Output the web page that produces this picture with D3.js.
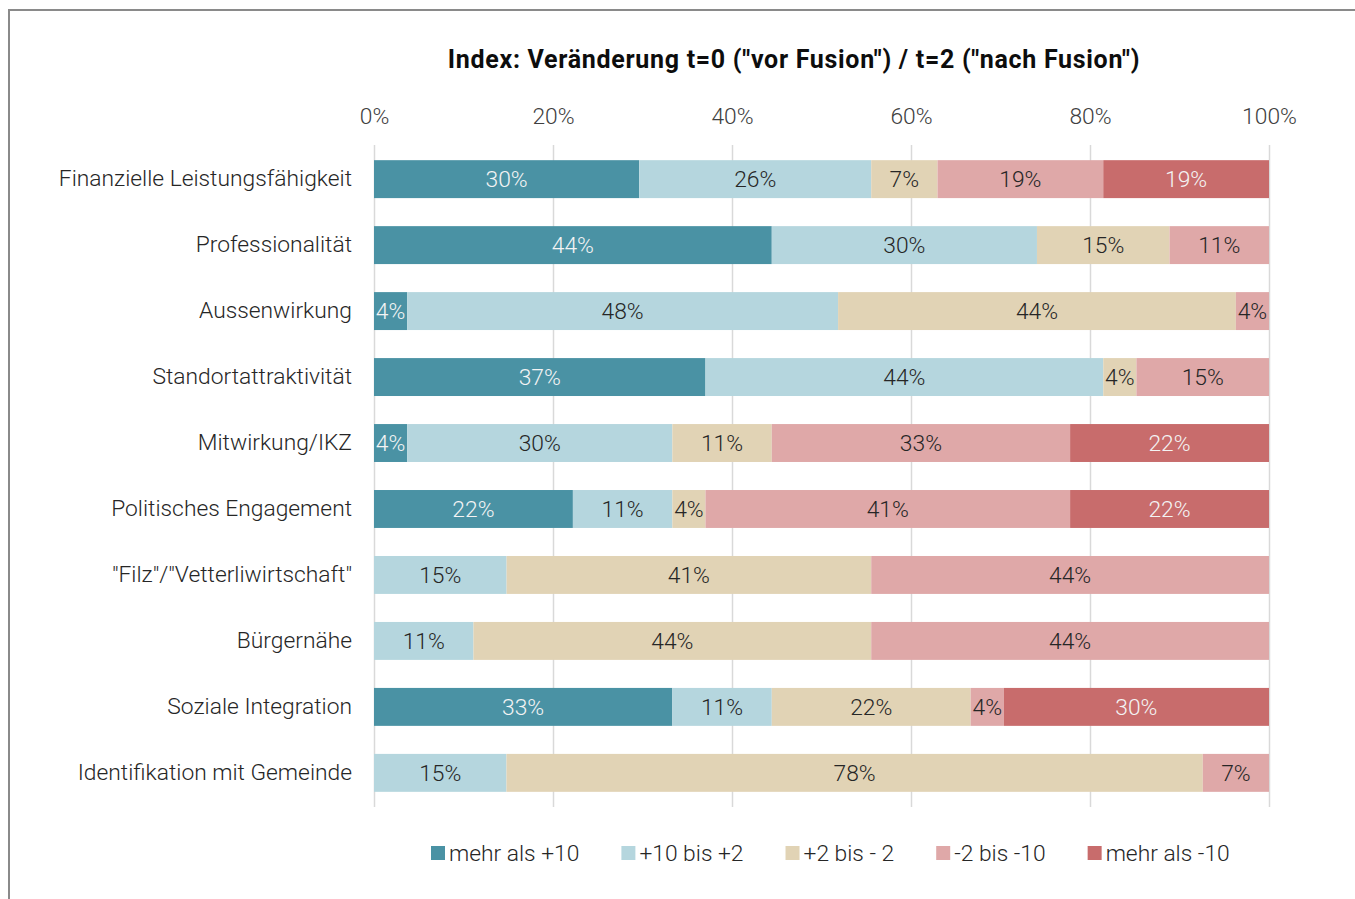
<!DOCTYPE html>
<html>
<head>
<meta charset="utf-8">
<script src="https://cdn.jsdelivr.net/npm/d3@7"></script>
<style>
  body { margin: 0; background: #fff; }
  svg text { font-family: Roboto, "Noto Sans", sans-serif; }
</style>
</head>
<body>
<div id="chart"></div>
<script>
'use strict';

// Kategorien (von oben nach unten)
var categories = [
    'Finanzielle Leistungsfähigkeit',
    'Professionalität',
    'Aussenwirkung',
    'Standortattraktivität',
    'Mitwirkung/IKZ',
    'Politisches Engagement',
    '"Filz"/"Vetterliwirtschaft"',
    'Bürgernähe',
    'Soziale Integration',
    'Identifikation mit Gemeinde'
];

var seriesNames = ['mehr als +10', '+10 bis +2', '+2 bis - 2', '-2 bis -10', 'mehr als -10'];
var seriesColors = ['#4a92a4', '#b5d6de', '#e1d3b5', '#dfa8a8', '#c86c6c'];
var labelColors = ['#f4f4f4', '#262626', '#262626', '#262626', '#f4f4f4'];

// Anteile in % je Kategorie
var mehrAlsPlus10  = [29.6, 44.4,  3.7, 37.0,  3.7, 22.2,  0.0,  0.0, 33.3,  0.0];
var plus10bisPlus2 = [25.9, 29.6, 48.1, 44.4, 29.6, 11.1, 14.8, 11.1, 11.1, 14.8];
var plus2bisMinus2 = [ 7.4, 14.8, 44.4,  3.7, 11.1,  3.7, 40.7, 44.4, 22.2, 77.8];
var minus2bis10    = [18.5, 11.1,  3.7, 14.8, 33.3, 40.7, 44.4, 44.4,  3.7,  7.4];
var mehrAlsMinus10 = [18.5,  0.0,  0.0,  0.0, 22.2, 22.2,  0.0,  0.0, 29.6,  0.0];

var tickValues = [0, 0.2, 0.4, 0.6, 0.8, 1];
var title = 'Index: Veränderung t=0 ("vor Fusion") / t=2 ("nach Fusion")';

function stackedBars()
{
    var scope = this;
    var exports = {};

    scope.width = 1355;
    scope.height = 899;
    scope.margins = {left: 374, right: 86, top: 145, bottom: 92};
    scope.cw = scope.width - scope.margins.left - scope.margins.right;
    scope.ch = scope.height - scope.margins.top - scope.margins.bottom;
    scope.fontSize = 22.8;

    scope.xScale = undefined;
    scope.yScale = undefined;
    scope.rows = undefined;
    scope.stack = undefined;

    scope.appendSvg = function(div)
    {
        var svg = d3.select(div).append('svg')
            .attr('width', scope.width)
            .attr('height', scope.height);

        // Rahmen
        svg.append('rect')
            .attr('x', 9)
            .attr('y', 10)
            .attr('width', 1400)
            .attr('height', 1000)
            .attr('fill', 'none')
            .attr('stroke', '#8a8a8a')
            .attr('stroke-width', 2);

        return svg;
    }

    scope.appendChartGroup = function(svg)
    {
        return svg.append('g')
            .attr('transform', 'translate(' + scope.margins.left + ',' + scope.margins.top + ')');
    }

    scope.createAxes = function(cht)
    {
        scope.xScale = d3.scaleLinear().domain([0, 1]).range([0, scope.cw]);
        scope.yScale = d3.scaleBand().domain(categories).range([0, scope.ch]).paddingInner(0.425).paddingOuter(0.23);

        // Gitterlinien
        cht.append('g')
            .selectAll('line')
            .data(tickValues)
            .enter().append('line')
            .attr('x1', function(d) { return Math.round(scope.xScale(d)) + 0.5; })
            .attr('x2', function(d) { return Math.round(scope.xScale(d)) + 0.5; })
            .attr('y1', 0)
            .attr('y2', scope.ch)
            .attr('stroke', '#d9d9d9')
            .attr('stroke-width', 1.5);

        var xAxis = cht.append('g')
            .attr('transform', 'translate(0,-21)')
            .call(d3.axisTop(scope.xScale).tickValues(tickValues).tickFormat(d3.format('.0%')).tickSize(0).tickPadding(0));
        xAxis.select('.domain').remove();
        xAxis.selectAll('text')
            .attr('font-family', 'Roboto')
            .attr('font-weight', 300)
            .attr('font-size', scope.fontSize)
            .attr('fill', '#404040');

        var yAxis = cht.append('g')
            .call(d3.axisLeft(scope.yScale).tickSize(0).tickPadding(22));
        yAxis.select('.domain').remove();
        yAxis.selectAll('text')
            .attr('font-family', 'Roboto')
            .attr('font-weight', 300)
            .attr('font-size', scope.fontSize)
            .attr('fill', '#262626');
    }

    scope.appendBars = function(cht)
    {
        var series = cht.selectAll('.series')
            .data(scope.stack)
            .enter().append('g')
            .attr('class', 'series')
            .attr('fill', function(d, i) { return seriesColors[i]; });

        series.selectAll('rect')
            .data(function(d) { return d; })
            .enter().append('rect')
            .attr('x', function(d) { return scope.xScale(d[0]); })
            .attr('y', function(d) { return scope.yScale(d.data.cat); })
            .attr('width', function(d) { return scope.xScale(d[1]) - scope.xScale(d[0]); })
            .attr('height', scope.yScale.bandwidth());

        series.each(function(s, i) {
            d3.select(this).selectAll('text')
                .data(s.filter(function(d) { return d.data[seriesNames[i]] > 0; }))
                .enter().append('text')
                .attr('x', function(d) { return (scope.xScale(d[0]) + scope.xScale(d[1])) / 2; })
                .attr('y', function(d) { return scope.yScale(d.data.cat) + scope.yScale.bandwidth() / 2; })
                .attr('dy', '0.36em')
                .attr('text-anchor', 'middle')
                .attr('font-weight', 300)
                .attr('font-size', scope.fontSize)
                .attr('fill', labelColors[i])
                .text(function(d) { return Math.round(d.data[seriesNames[i]]) + '%'; });
        });
    }

    scope.appendLegend = function(svg)
    {
        var legend = svg.append('g')
            .attr('transform', 'translate(431,853)');

        var x = 0;
        seriesNames.forEach(function(name, i) {
            var item = legend.append('g').attr('transform', 'translate(' + x + ',0)');
            item.append('rect')
                .attr('x', 0)
                .attr('y', -7)
                .attr('width', 14)
                .attr('height', 14)
                .attr('fill', seriesColors[i]);
            var t = item.append('text')
                .attr('x', 18)
                .attr('dy', '0.35em')
                .attr('font-weight', 300)
                .attr('font-size', scope.fontSize)
                .attr('fill', '#262626')
                .text(name);
            x += 18 + t.node().getComputedTextLength() + 42;
        });
    }

    scope.appendTitle = function(svg)
    {
        svg.append('text')
            .attr('x', 794)
            .attr('y', 68)
            .attr('text-anchor', 'middle')
            .attr('font-weight', 700)
            .attr('font-size', 25)
            .attr('letter-spacing', 0.7)
            .attr('fill', '#0d0d0d')
            .text(title);
    }

    exports.run = function(div)
    {
        var columns = [mehrAlsPlus10, plus10bisPlus2, plus2bisMinus2, minus2bis10, mehrAlsMinus10];
        scope.rows = categories.map(function(c, j) {
            var r = {cat: c};
            seriesNames.forEach(function(n, i) { r[n] = columns[i][j]; });
            return r;
        });
        scope.stack = d3.stack().keys(seriesNames).offset(d3.stackOffsetExpand)(scope.rows);

        var svg = scope.appendSvg(div);
        var cht = scope.appendChartGroup(svg);

        scope.appendTitle(svg);
        scope.createAxes(cht);
        scope.appendBars(cht);
        scope.appendLegend(svg);
    }

    return exports;
}

stackedBars.call({}).run('#chart');
</script>
</body>
</html>
